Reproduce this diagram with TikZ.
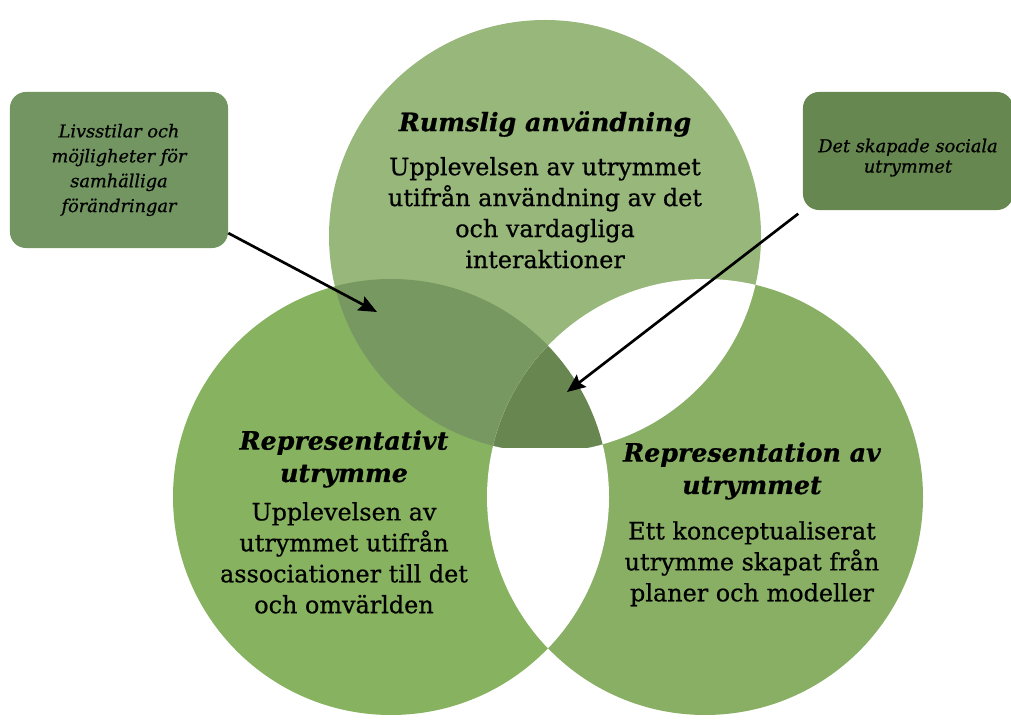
\documentclass[tikz,border=0pt]{standalone}
\usepackage{fontspec}
\setmainfont{DejaVu Serif}[FakeBold=0.7]
\usetikzlibrary{arrows.meta,positioning}

\definecolor{usegreen}{HTML}{98B77A}
\definecolor{reprgreen}{HTML}{87B25F}
\definecolor{plangreen}{HTML}{89AF65}
\definecolor{pairgreen}{HTML}{779860}
\definecolor{triplegreen}{HTML}{688650}
\definecolor{lifegreen}{HTML}{729562}
\definecolor{socialgreen}{HTML}{678750}

\begin{document}
\begin{tikzpicture}[
  x=0.025cm,
  y=-0.025cm,
  circle title/.style={
    font=\fontsize{18}{23}\selectfont\bfseries\itshape,
    align=center,
    inner sep=0pt
  },
  circle text/.style={
    font=\fontsize{17}{22}\selectfont,
    align=center,
    inner sep=0pt
  },
  callout/.style={
    fill=#1,
    rounded corners=0.4cm,
    align=center,
    inner sep=0pt,
    font=\fontsize{12.6}{17.7}\selectfont\itshape
  },
  pointer/.style={
    -{Stealth[length=13pt,width=11pt,inset=2pt]},
    draw=black,
    line width=1.9pt
  }
]

\useasboundingbox (0,0) rectangle (1011,720);
\clip (0,0) rectangle (1011,720);

\coordinate (use-c) at (545,236);
\coordinate (repr-c) at (391,497);
\coordinate (plan-c) at (705,497);

\fill[reprgreen] (repr-c) circle[radius=218];
\fill[plangreen] (plan-c) circle[radius=218];
\begin{scope}
  \clip (repr-c) circle[radius=218];
  \fill[white] (plan-c) circle[radius=218];
\end{scope}
\begin{scope}
  \clip (0,0) rectangle (1011,447);
  \fill[usegreen] (use-c) circle[radius=216];
  \clip (use-c) circle[radius=216];
  \fill[pairgreen] (repr-c) circle[radius=218];
  \fill[white] (plan-c) circle[radius=218];
  \clip (repr-c) circle[radius=218];
  \fill[triplegreen] (plan-c) circle[radius=218];
\end{scope}

\node[circle title] (use-title) at (545,124) {Rumslig användning};
\node[circle text,below=14pt of use-title] (use-text) {
  Upplevelsen av utrymmet\\
  utifrån användning av det\\
  och vardagliga\\
  interaktioner
};

\node[circle title] (repr-title) at (344,459) {Representativt\\utrymme};
\node[circle text,below=10pt of repr-title] (repr-text) {
  Upplevelsen av\\
  utrymmet utifrån\\
  associationer till det\\
  och omvärlden
};

\node[circle title] (plan-title) at (752,471) {Representation av\\utrymmet};
\node[circle text,below=15pt of plan-title] (plan-text) {
  Ett konceptualiserat\\
  utrymme skapat från\\
  planer och modeller
};

\node[callout=lifegreen,minimum width=5.45cm,minimum height=3.9cm] (life-box) at (119,170) {
  Livsstilar och\\
  möjligheter för\\
  samhälliga\\
  förändringar
};
\node[callout=socialgreen,minimum width=5.25cm,minimum height=2.95cm,
      font=\fontsize{12.6}{14.5}\selectfont\itshape] (social-box) at (908,151) {
  \rule{0pt}{19pt}Det skapade sociala\\
  utrymmet
};

\coordinate (pair-tip) at (377,312);
\coordinate (triple-tip) at (567,392);

\draw[pointer] (life-box.-30) -- (pair-tip);
\draw[pointer,shorten <=4pt] (social-box.south west) -- (triple-tip);

\end{tikzpicture}
\end{document}
